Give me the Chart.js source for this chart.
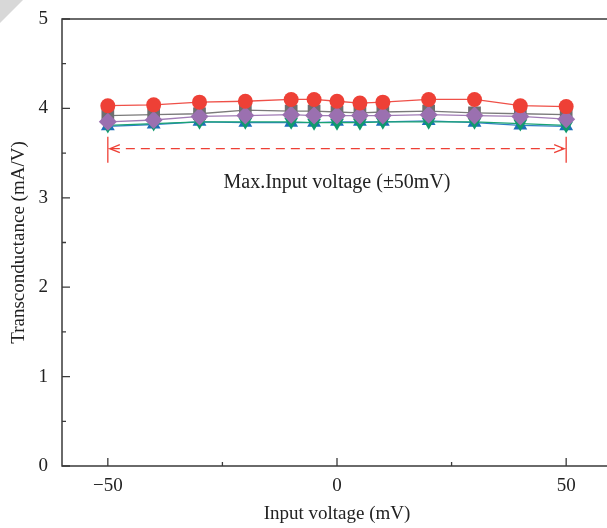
<!DOCTYPE html>
<html>
<head>
<meta charset="utf-8">
<script src="https://cdn.jsdelivr.net/npm/chart.js@4.4.0/dist/chart.umd.min.js"></script>
<style>
html,body{margin:0;padding:0;overflow:hidden;background:#fff;}
#wrap{width:621px;height:528px;}
</style>
</head>
<body>
<div id="wrap"><canvas id="c" width="621" height="528"></canvas></div>
<script>
// ---- data ----
const inputVoltage = [-50, -40, -30, -20, -10, -5, 0, 5, 10, 20, 30, 40, 50];
const seriesRed    = [4.03, 4.04, 4.07, 4.08, 4.10, 4.10, 4.08, 4.06, 4.07, 4.10, 4.10, 4.03, 4.02];
const seriesGray   = [3.92, 3.93, 3.94, 3.98, 3.97, 3.97, 3.96, 3.95, 3.96, 3.97, 3.95, 3.94, 3.93];
const seriesPurple = [3.85, 3.87, 3.91, 3.92, 3.93, 3.92, 3.92, 3.92, 3.92, 3.93, 3.92, 3.91, 3.88];
const seriesGreen  = [3.81, 3.83, 3.85, 3.85, 3.85, 3.84, 3.84, 3.84, 3.85, 3.85, 3.85, 3.83, 3.81];
const seriesBlue   = [3.80, 3.82, 3.85, 3.84, 3.84, 3.84, 3.85, 3.85, 3.85, 3.86, 3.84, 3.81, 3.80];
const xTickValues = [-50, 0, 50];
const xMinorTicks = [-25, 25];
const yTickValues = [0, 1, 2, 3, 4, 5];
const yMinorTicks = [0.5, 1.5, 2.5, 3.5, 4.5];
const rangeLimits = [-50, 50];
const rangeLevel = 3.55;
const rangeLabel = 'Max.Input voltage (\u00B150mV)';
const xTitle = 'Input voltage (mV)';
const yTitle = 'Transconductance (mA/V)';

const FONT = "'Liberation Serif', 'DejaVu Serif', serif";
const toPts = (arr) => inputVoltage.map((x, i) => ({x: x, y: arr[i]}));

function ds(data, color, lineColor, style, radius, rotation) {
  return {
    data: toPts(data), borderColor: lineColor, backgroundColor: color,
    pointBackgroundColor: color, pointBorderColor: color, pointBorderWidth: 0,
    pointStyle: style, pointRadius: radius, pointHoverRadius: radius,
    pointRotation: rotation || 0, borderWidth: 1.3, showLine: true, tension: 0
  };
}

const framePlugin = {
  id: 'frame',
  beforeDraw(chart) {
    const ctx = chart.ctx;
    ctx.save();
    ctx.fillStyle = '#d8d8d8';
    ctx.beginPath(); ctx.moveTo(0,0); ctx.lineTo(23,0); ctx.lineTo(0,23); ctx.closePath(); ctx.fill();
    ctx.restore();
  },
  afterDatasetsDraw(chart) {
    const {ctx, chartArea: a, scales: {x, y}} = chart;
    ctx.save();
    // frame
    ctx.strokeStyle = '#3a3a3a'; ctx.lineWidth = 1.5;
    ctx.beginPath();
    ctx.moveTo(a.right + 5, a.top); ctx.lineTo(a.left, a.top);
    ctx.lineTo(a.left, a.bottom); ctx.lineTo(a.right + 5, a.bottom);
    ctx.stroke();
    // ticks
    ctx.lineWidth = 1.3;
    ctx.beginPath();
    yTickValues.forEach(v => { const p = y.getPixelForValue(v); ctx.moveTo(a.left, p); ctx.lineTo(a.left + 8, p); });
    yMinorTicks.forEach(v => { const p = y.getPixelForValue(v); ctx.moveTo(a.left, p); ctx.lineTo(a.left + 4, p); });
    xTickValues.forEach(v => { const p = x.getPixelForValue(v); ctx.moveTo(p, a.bottom); ctx.lineTo(p, a.bottom - 8); });
    xMinorTicks.forEach(v => { const p = x.getPixelForValue(v); ctx.moveTo(p, a.bottom); ctx.lineTo(p, a.bottom - 4); });
    ctx.stroke();
    // range annotation
    const x1 = x.getPixelForValue(rangeLimits[0]);
    const x2 = x.getPixelForValue(rangeLimits[1]);
    const yp = y.getPixelForValue(rangeLevel);
    ctx.strokeStyle = '#ee4036'; ctx.lineWidth = 1.3;
    ctx.beginPath();
    ctx.moveTo(x1, yp - 12); ctx.lineTo(x1, yp + 14);
    ctx.moveTo(x2, yp - 12); ctx.lineTo(x2, yp + 14);
    ctx.moveTo(x1 + 12, yp - 4); ctx.lineTo(x1 + 2, yp); ctx.lineTo(x1 + 12, yp + 4);
    ctx.moveTo(x2 - 12, yp - 4); ctx.lineTo(x2 - 2, yp); ctx.lineTo(x2 - 12, yp + 4);
    ctx.stroke();
    ctx.setLineDash([9, 6]);
    ctx.beginPath(); ctx.moveTo(x1 + 3, yp); ctx.lineTo(x2 - 3, yp); ctx.stroke();
    ctx.setLineDash([]);
    ctx.fillStyle = '#222';
    ctx.font = '20px ' + FONT;
    ctx.textAlign = 'center'; ctx.textBaseline = 'middle';
    ctx.fillText(rangeLabel, (x1 + x2) / 2, yp + 34);
    ctx.restore();
  }
};

new Chart(document.getElementById('c'), {
  type: 'scatter',
  data: {
    datasets: [
      ds(seriesRed,    '#ee4036', '#ef5048', 'circle', 7.5, 0),
      ds(seriesPurple, '#9b70b0', '#a07bb5', 'rectRot', 9, 0),
      ds(seriesGray,   '#6d6e71', '#7a7a7a', 'rect', 9, 0),
      ds(seriesGreen,  '#0f9a6c', '#1aa374', 'triangle', 8, 180),
      ds(seriesBlue,   '#1c6fb8', '#2f7fc4', 'triangle', 8, 0)
    ]
  },
  options: {
    responsive: false, animation: false, devicePixelRatio: 1,
    layout: {padding: {top: 19, right: 0, left: 0, bottom: 0}},
    plugins: {legend: {display: false}, tooltip: {enabled: false}},
    scales: {
      x: {
        type: 'linear', min: -60, max: 60,
        afterBuildTicks: (s) => { s.ticks = xTickValues.map(v => ({value: v})); },
        afterFit: (s) => { s.height = 62; s.paddingLeft = 0; s.paddingRight = 0; },
        grid: {display: false, drawTicks: false},
        border: {display: false},
        ticks: {
          padding: 9, color: '#222', font: {family: FONT, size: 19},
          maxRotation: 0, autoSkip: false,
          callback: (v) => (v < 0 ? '\u2212' + Math.abs(v) : String(v))
        },
        title: {display: true, text: xTitle, color: '#222', font: {family: FONT, size: 19}, padding: {top: 0, bottom: 3}}
      },
      y: {
        type: 'linear', min: 0, max: 5,
        afterBuildTicks: (s) => { s.ticks = yTickValues.map(v => ({value: v})); },
        afterFit: (s) => { s.width = 62; s.paddingTop = 0; s.paddingBottom = 0; },
        grid: {display: false, drawTicks: false},
        border: {display: false},
        ticks: {padding: 14, color: '#222', font: {family: FONT, size: 19}},
        title: {display: true, text: yTitle, color: '#222', font: {family: FONT, size: 19}, padding: {top: 8, bottom: 0}}
      }
    }
  },
  plugins: [framePlugin]
});
</script>
</body>
</html>
